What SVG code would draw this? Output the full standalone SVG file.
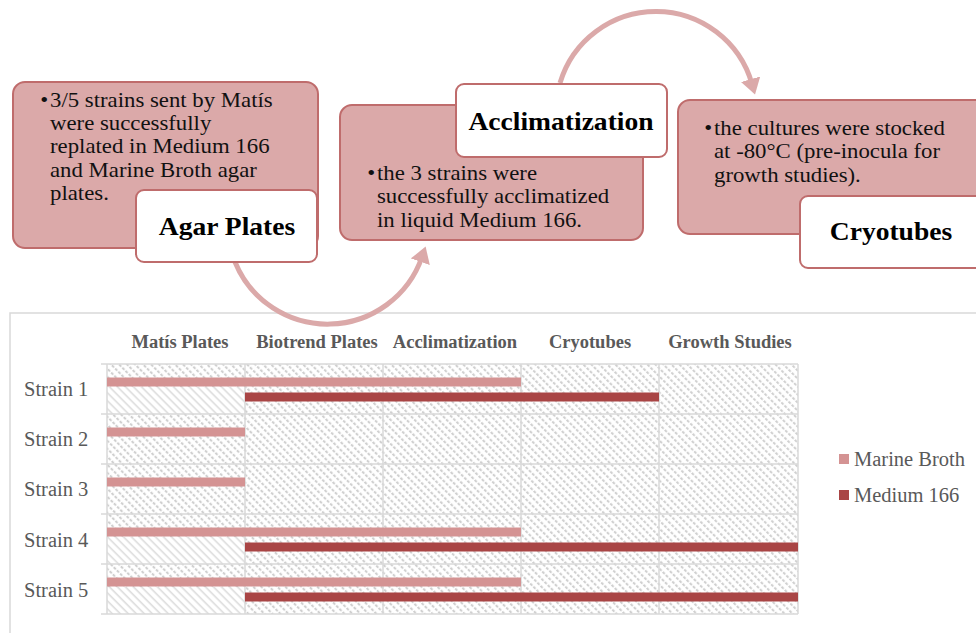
<svg xmlns="http://www.w3.org/2000/svg" width="976" height="633" viewBox="0 0 976 633">
<style>
.pink{fill:#dba9a9;stroke:#bf6c6c;stroke-width:2}
.white{fill:#ffffff;stroke:#bf6c6c;stroke-width:2}
.body{font-family:"Liberation Serif",serif;font-size:21px;fill:#111}
.title{font-family:"Liberation Serif",serif;font-size:26px;font-weight:bold;fill:#000;text-anchor:middle}
.arrow{fill:none;stroke:#dba9a9;stroke-width:5}
.hdr{font-family:"Liberation Serif",serif;font-size:18.5px;font-weight:bold;fill:#595959;text-anchor:middle}
.row{font-family:"Liberation Serif",serif;font-size:20.5px;fill:#595959}
.grid{stroke:#d9d9d9;stroke-width:1.5;fill:none}
.mb{fill:#d49393}
.m166{fill:#a94545}
</style>
<defs>
<marker id="ah" markerWidth="4" markerHeight="4" refX="1" refY="2" orient="auto" markerUnits="strokeWidth">
<path d="M0,0 L3.2,2 L0,4 Z" fill="#dba9a9"/>
</marker>
<pattern id="chk" width="5.66" height="4.5" patternUnits="userSpaceOnUse" patternTransform="rotate(-45)">
<line x1="2" y1="0" x2="2" y2="4.5" stroke="#cfcfcf" stroke-width="2" stroke-dasharray="3 1.5"/>
</pattern>
<pattern id="sol" width="5.66" height="5.66" patternUnits="userSpaceOnUse" patternTransform="rotate(-45)">
<line x1="2" y1="0" x2="2" y2="5.66" stroke="#dedede" stroke-width="1.6"/>
</pattern>
</defs>

<g id="chart">
<rect x="10" y="313" width="980" height="330" fill="#fff" stroke="#d9d9d9" stroke-width="1.5"/>
<text class="hdr" x="180" y="348">Matís Plates</text>
<text class="hdr" x="317" y="348">Biotrend Plates</text>
<text class="hdr" x="455" y="348">Acclimatization</text>
<text class="hdr" x="590" y="348">Cryotubes</text>
<text class="hdr" x="730" y="348">Growth Studies</text>

<rect x="107" y="364" width="691" height="250" fill="url(#chk)"/>
<rect x="107" y="387" width="138" height="27" fill="#fff"/>
<rect x="107" y="387" width="138" height="27" fill="url(#sol)"/>
<rect x="107" y="537" width="138" height="27" fill="#fff"/>
<rect x="107" y="537" width="138" height="27" fill="url(#sol)"/>
<rect x="107" y="587" width="138" height="27" fill="#fff"/>
<rect x="107" y="587" width="138" height="27" fill="url(#sol)"/>

<path class="grid" d="M101,364H798M101,414H798M101,464H798M101,514H798M101,564H798M101,614H798M107,364V614M245,364V614M383,364V614M521,364V614M659,364V614M798,364V614"/>

<rect class="mb" x="107" y="377.5" width="414" height="9"/>
<rect class="m166" x="245" y="392.5" width="414" height="9"/>
<rect class="mb" x="107" y="427.5" width="138" height="9"/>
<rect class="mb" x="107" y="477.5" width="138" height="9"/>
<rect class="mb" x="107" y="527.5" width="414" height="9"/>
<rect class="m166" x="245" y="542.5" width="553" height="9"/>
<rect class="mb" x="107" y="577.5" width="414" height="9"/>
<rect class="m166" x="245" y="592.5" width="553" height="9"/>

<text class="row" x="24" y="396">Strain 1</text>
<text class="row" x="24" y="446">Strain 2</text>
<text class="row" x="24" y="496">Strain 3</text>
<text class="row" x="24" y="547">Strain 4</text>
<text class="row" x="24" y="597">Strain 5</text>

<rect class="mb" x="839" y="454" width="10" height="10"/>
<text class="row" x="854" y="466">Marine Broth</text>
<rect class="m166" x="839" y="490" width="10" height="10"/>
<text class="row" x="854" y="502">Medium 166</text>
</g>

<g id="connectors">
<path class="arrow" d="M235,262 A100,100 0 0 0 422,257" marker-end="url(#ah)"/>
<path class="arrow" d="M560,83 A100,100 0 0 1 752,84" marker-end="url(#ah)"/>
</g>

<g id="node-agar">
<rect class="pink" x="13" y="82" width="305" height="166" rx="12"/>
<g transform="translate(50,0) scale(1.085,1)">
<text class="body"><tspan x="-9" y="107">•</tspan><tspan x="0" y="107">3/5 strains sent by Matís</tspan><tspan x="0" y="130">were successfully</tspan><tspan x="0" y="153">replated in Medium 166</tspan><tspan x="0" y="177">and Marine Broth agar</tspan><tspan x="0" y="200">plates.</tspan></text>
</g>
<rect class="white" x="136" y="190" width="181" height="72" rx="8"/>
<text class="title" transform="translate(227,0) scale(1.06,1)" x="0" y="235">Agar Plates</text>
</g>

<g id="node-accl">
<rect class="pink" x="340" y="105" width="303" height="135" rx="12"/>
<g transform="translate(377,0) scale(1.085,1)">
<text class="body"><tspan x="-9" y="180">•</tspan><tspan x="0" y="180">the 3 strains were</tspan><tspan x="0" y="203">successfully acclimatized</tspan><tspan x="0" y="227">in liquid Medium 166.</tspan></text>
</g>
<rect class="white" x="456" y="84" width="211" height="73" rx="8"/>
<text class="title" transform="translate(561,0) scale(1.06,1)" x="0" y="130">Acclimatization</text>
</g>

<g id="node-cryo">
<rect class="pink" x="678" y="100" width="310" height="134" rx="12"/>
<g transform="translate(714,0) scale(1.085,1)">
<text class="body"><tspan x="-9" y="135">•</tspan><tspan x="0" y="135">the cultures were stocked</tspan><tspan x="0" y="158">at -80°C (pre-inocula for</tspan><tspan x="0" y="182">growth studies).</tspan></text>
</g>
<rect class="white" x="800" y="196" width="190" height="72" rx="8"/>
<text class="title" transform="translate(891,0) scale(1.06,1)" x="0" y="240">Cryotubes</text>
</g>
</svg>
